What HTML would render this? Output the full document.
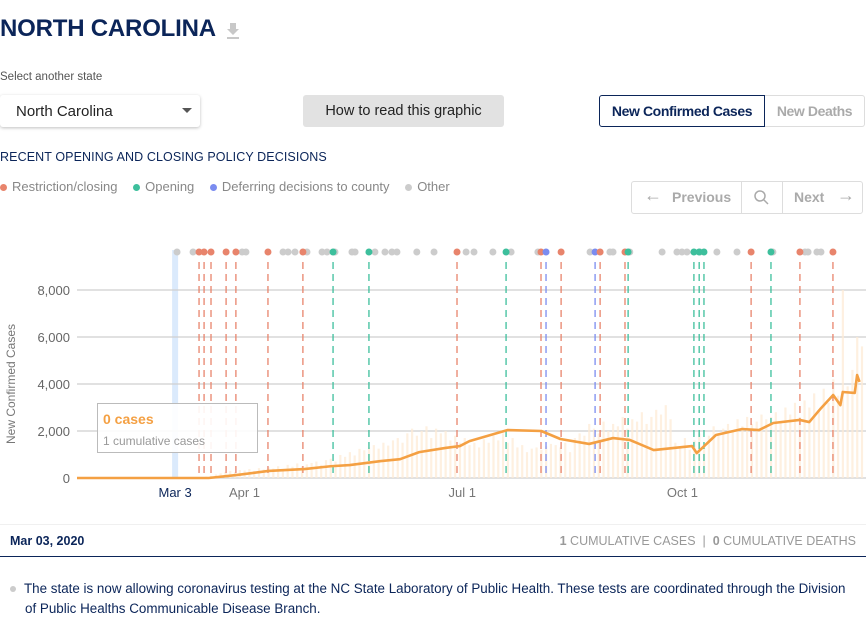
<!DOCTYPE html>
<html><head><meta charset="utf-8">
<style>
body{margin:0;width:866px;height:641px;overflow:hidden;background:#fff;font-family:"Liberation Sans",sans-serif;position:relative;color:#0b2559}
.abs{position:absolute}
</style></head><body>
<div class="abs" style="left:0;top:15px;font-size:24px;font-weight:bold;color:#0b2559;letter-spacing:-0.2px">NORTH CAROLINA</div>
<svg class="abs" style="left:225px;top:22px" width="16" height="18"><path d="M5 1h6v6h3l-6 6-6-6h3z M2 15h12v2H2z" fill="#c8c8c8"/></svg>
<div class="abs" style="left:0;top:71px;font-size:11.5px;color:#555">Select another state</div>
<div class="abs" style="left:0;top:95px;width:200px;height:32px;border-radius:3px;box-shadow:0 1px 3px rgba(0,0,0,.25);background:#fff"><span style="position:absolute;left:16px;top:8px;font-size:15px;color:#222">North Carolina</span><span style="position:absolute;right:8px;top:13px;border-left:5px solid transparent;border-right:5px solid transparent;border-top:5px solid #555"></span></div>
<div class="abs" style="left:303px;top:95px;width:201px;height:32px;background:#e2e2e2;border-radius:3px;text-align:center;line-height:32px;font-size:14.5px;color:#222">How to read this graphic</div>
<div class="abs" style="left:599px;top:95px;width:164px;height:30px;border:1px solid #0b2559;border-radius:3px 0 0 3px;text-align:center;line-height:30px;font-size:14px;font-weight:bold;color:#0b2559;letter-spacing:-0.4px">New Confirmed Cases</div>
<div class="abs" style="left:765px;top:95px;width:99px;height:30px;border:1px solid #ddd;border-left:none;border-radius:0 3px 3px 0;text-align:center;line-height:30px;font-size:14px;font-weight:bold;color:#aaa;letter-spacing:-0.4px">New Deaths</div>
<div class="abs" style="left:0;top:150px;font-size:12.5px;color:#0b2559;letter-spacing:0.1px">RECENT OPENING AND CLOSING POLICY DECISIONS</div>
<div class="abs" style="left:0;top:179px;font-size:13px;color:#888;white-space:nowrap">
<span><span style="display:inline-block;width:7px;height:7px;border-radius:50%;background:#e8846c;margin-right:5px"></span>Restriction/closing</span>
<span style="margin-left:12px"><span style="display:inline-block;width:7px;height:7px;border-radius:50%;background:#3dbf9c;margin-right:5px"></span>Opening</span>
<span style="margin-left:12px"><span style="display:inline-block;width:7px;height:7px;border-radius:50%;background:#7b8cf0;margin-right:5px"></span>Deferring decisions to county</span>
<span style="margin-left:12px"><span style="display:inline-block;width:7px;height:7px;border-radius:50%;background:#ccc;margin-right:5px"></span>Other</span>
</div>
<div class="abs" style="left:631px;top:181px;width:230px;height:31px;border:1px solid #ddd;border-radius:3px;font-size:14px;font-weight:bold;color:#aaa">
<div style="position:absolute;left:0;top:0;width:109px;height:31px;line-height:31px;border-right:1px solid #ddd"><span style="position:absolute;left:12px;top:-2px;font-weight:normal;font-size:18px">←</span><span style="position:absolute;left:40px">Previous</span></div>
<div style="position:absolute;left:110px;top:0;width:40px;height:31px;border-right:1px solid #ddd"><svg width="40" height="31"><circle cx="18" cy="14" r="5" fill="none" stroke="#aaa" stroke-width="1.5"/><line x1="22" y1="18" x2="26" y2="22" stroke="#aaa" stroke-width="1.5"/></svg></div>
<div style="position:absolute;left:151px;top:0;width:79px;height:31px;line-height:31px"><span style="position:absolute;left:11px">Next</span><span style="position:absolute;left:54px;top:-2px;font-weight:normal;font-size:18px">→</span></div>
</div>

<svg id="chart" class="abs" style="left:0;top:230px" width="866" height="280"></svg>

<div class="abs" style="left:97px;top:403px;width:159px;height:48px;border:1px solid #bbb;background:rgba(255,255,255,.9)">
<div style="position:absolute;left:5px;top:7px;font-size:14px;font-weight:bold;color:#f4a043">0 cases</div>
<div style="position:absolute;left:5px;top:30px;font-size:12px;color:#999">1 cumulative cases</div>
</div>

<div class="abs" style="left:0;top:524px;width:866px;height:31px;border-bottom:1.5px solid #0b2559;border-top:1px solid #f0f0f0">
<span style="position:absolute;left:10px;top:9px;font-size:12.5px;font-weight:bold;color:#0b2559">Mar 03, 2020</span>
<span style="position:absolute;right:10px;top:9px;font-size:12.5px;color:#999"><b>1</b> CUMULATIVE CASES &nbsp;| &nbsp;<b>0</b> CUMULATIVE DEATHS</span>
</div>
<div class="abs" style="left:10px;top:579px;width:856px;font-family:'Liberation Sans Narrow','Liberation Sans',sans-serif;font-size:13.4px;line-height:20px;color:#0b2559;white-space:nowrap"><span style="display:inline-block;width:6px;height:6px;border-radius:50%;background:#ccc;margin-right:8px;vertical-align:1px"></span>The state is now allowing coronavirus testing at the NC State Laboratory of Public Health. These tests are coordinated through the Division<br><span style="margin-left:15px">of Public Healths Communicable Disease Branch.</span></div>

<script>
// day index: 0 = Jan 22, 2020
const yTicks=[0,2000,4000,6000,8000];
const xTickDays=[41,70,161,253];
const xTickLabels=["Mar 3","Apr 1","Jul 1","Oct 1"];
const lineDays=[0,55,67,80,95,106,114,127,135,143,154,160,164,180,194,202,214,224,231,241,257,259,267,278,285,291,302,306,311,316,319,320,325,326,327];
const lineVals=[0,0,130,300,380,500,550,720,800,1100,1280,1360,1570,2040,2000,1660,1450,1700,1620,1190,1360,1060,1830,2085,2040,2340,2470,2380,2980,3530,3100,3660,3620,4380,4090];
const barStart=50;
const barVals=[20,40,60,90,150,200,260,300,250,340,320,380,300,420,360,450,400,500,380,560,480,620,500,580,640,700,560,760,820,700,980,900,1100,960,1240,1180,1300,1400,1250,1500,1380,1600,1700,1500,1900,2100,1800,2000,2200,1700,2100,1900,2000,1600,1800,1500,1700,1400,1500,1300,1650,1500,1800,1600,1900,1500,1700,1300,1400,1100,1250,1300,1200,1350,1450,1400,1300,1500,1100,1700,1900,1800,2300,2100,1900,2400,2000,2300,2200,2600,2100,2500,2400,2800,2300,2600,2900,2700,3100,2500,
1500,1300,1700,1200,1600,1900,1400,1800,2200,1900,2100,2300,2000,2500,2200,2600,2300,2400,2700,2500,2600,2800,2400,3000,2700,3200,2600,3300,3000,3600,2900,3800,3200,4200,3500,8000,3900,4600,6000,5600];
const eventDays=[41.8,48.5,51,53.1,56,62.3,66.4,69,70.6,79.8,86.1,88.2,91.1,94.4,96.1,102.4,104.5,107,107.8,114.9,116.2,122,124.5,128.7,131.6,133.7,142,149.2,158.8,162.6,165.9,173.8,179.3,181.4,192.6,193.9,196,202.3,214.4,216.5,218.6,222.7,224,229,230.3,231,244.5,250.7,252.8,254.9,257.8,260,260.3,262,267.4,275.8,281.7,290,290.8,302.1,304.2,305.5,309.2,310.9,315.9];
const eventTypes=["o","o","r","r","r","r","r","o","o","r","o","o","o","r","o","o","o","g","o","o","o","g","o","o","o","o","o","o","r","o","o","o","g","o","o","r","b","r","o","b","r","o","o","r","g","o","o","o","o","o","g","g","o","g","o","o","r","g","o","r","o","o","o","o","r"];
const colors={r:"#e8846c",g:"#3dbf9c",b:"#7b8cf0",o:"#cccccc"};
const NS="http://www.w3.org/2000/svg";
const svg=document.getElementById('chart');
const OY=230;
const X=d=>77+d*2.393;
const Y=v=>478-OY-v*47/2000;
function mk(t,a){const e=document.createElementNS(NS,t);for(const k in a)e.setAttribute(k,a[k]);svg.appendChild(e);return e;}
const hb=mk('rect',{x:X(41)-3,y:250-OY,width:6,height:478-250,fill:'#dbeafc'});


yTicks.forEach(v=>{
  const g=mk('line',{x1:77,x2:866,y1:Y(v),y2:Y(v),stroke:'#cfcfcf','stroke-width':1.3});
  
  
  const t=mk('text',{x:70,y:Y(v)+5,'text-anchor':'end','font-size':13,fill:'#666','font-family':'Liberation Sans'});
  t.textContent=v.toLocaleString('en-US');
  
  
});
const yt=mk('text',{transform:`translate(15,${384-OY}) rotate(-90)`,'text-anchor':'middle','font-size':12,fill:'#777','font-family':'Liberation Sans'});
yt.textContent='New Confirmed Cases';


barVals.forEach((v,i)=>{
  const d=barStart+i*2;
  const b=mk('rect',{x:X(d)-1,y:Y(v),width:2.2,height:Y(0)-Y(v),fill:'#fdebd6',opacity:0.75});
  
  
});
eventDays.forEach((d,i)=>{
  const c=colors[eventTypes[i]];
  if(eventTypes[i]!=='o'){
    const l=mk('line',{x1:X(d),x2:X(d),y1:262-OY,y2:478-OY,stroke:c,'stroke-width':1.3,'stroke-dasharray':'7 5'});
    
    
  }
});
eventDays.forEach((d,i)=>{
  if(eventTypes[i]==='o'){const c=mk('circle',{cx:X(d),cy:252-OY,r:3.5,fill:colors.o});
  
  }
});
eventDays.forEach((d,i)=>{
  if(eventTypes[i]!=='o'){const c=mk('circle',{cx:X(d),cy:252-OY,r:3.5,fill:colors[eventTypes[i]]});
  
  }
});
const pts=lineDays.map((d,i)=>X(d)+','+Y(lineVals[i])).join(' ');
const pl=mk('polyline',{points:pts,fill:'none',stroke:'#f4a043','stroke-width':2.6,'stroke-linejoin':'round'});


xTickDays.forEach((d,i)=>{
  const t=mk('text',{x:X(d),y:497-OY,'text-anchor':'middle','font-size':13,fill:i===0?'#0b2559':'#777','font-family':'Liberation Sans'});
  t.textContent=xTickLabels[i];
  
  
});
</script>
</body></html>
